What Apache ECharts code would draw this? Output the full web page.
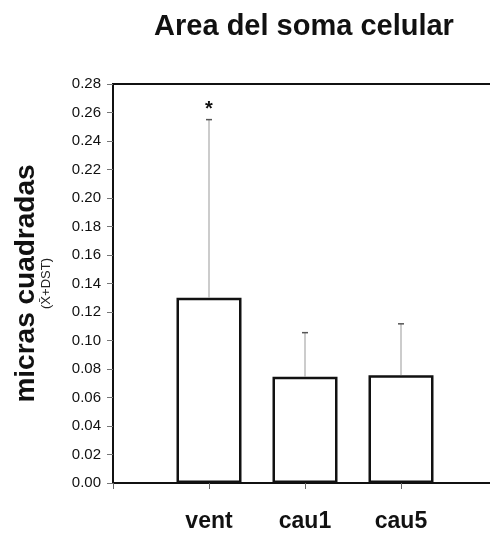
<!DOCTYPE html>
<html>
<head>
<meta charset="utf-8">
<script src="https://cdn.jsdelivr.net/npm/echarts@6/dist/echarts.min.js"></script>
<style>html,body{margin:0;padding:0;background:#fff;}#c{width:490px;height:533px;}</style>
</head>
<body>
<div id="c"></div>
<script>
var chartTitle = 'Area del soma celular';
var yName = 'micras cuadradas';
var ySub = '(X\u0304+DST)';
var categories = ['vent', 'cau1', 'cau5'];
var positions = [1, 2, 3];
var means = [0.130, 0.0745, 0.0757];
var sds = [0.125, 0.031, 0.036];
var marks = ['*', '', ''];

var FONT = 'Liberation Sans, Arial, sans-serif';
var chart = echarts.init(document.getElementById('c'));

var barData = positions.map(function (p, i) { return [p, means[i]]; });
var errData = positions.map(function (p, i) { return [p, means[i], sds[i], i]; });

chart.setOption({
  animation: false,
  backgroundColor: '#fff',
  graphic: [{
    type: 'text', x: 304, y: 27,
    style: { text: chartTitle, font: 'bold 29px ' + FONT, fill: '#111', textAlign: 'center', textVerticalAlign: 'middle' }
  }],
  grid: { left: 113, top: 84, right: -7, bottom: 50, outerBoundsMode: 'none', containLabel: false, show: true, borderColor: '#111', borderWidth: 2, backgroundColor: 'transparent' },
  xAxis: {
    type: 'value', min: 0, max: 4, interval: 1,
    splitLine: { show: false },
    axisLine: { lineStyle: { color: '#111', width: 2 } },
    axisTick: { show: true, length: 6, lineStyle: { color: '#666' } },
    axisLabel: {
      margin: 27, fontFamily: FONT, fontWeight: 'bold', fontSize: 23, color: '#111',
      formatter: function (v) { var i = positions.indexOf(v); return i >= 0 ? categories[i] : ''; }
    }
  },
  yAxis: {
    type: 'value', min: 0, max: 0.28, interval: 0.02,
    splitLine: { show: false },
    axisLine: { show: true, lineStyle: { color: '#111', width: 2 } },
    axisTick: { show: true, length: 6, lineStyle: { color: '#777' } },
    axisLabel: { margin: 12, fontFamily: FONT, fontSize: 15, color: '#111', formatter: function (v) { return v.toFixed(2); } },
    name: '{a|' + yName + '}\n{b|' + ySub + '}',
    nameLocation: 'middle', nameRotate: 90, nameGap: 60,
    nameTextStyle: {
      rich: {
        a: { fontFamily: FONT, fontWeight: 'bold', fontSize: 28, color: '#111', lineHeight: 26 },
        b: { fontFamily: FONT, fontSize: 13, color: '#222', lineHeight: 14 }
      }
    }
  },
  series: [{
    type: 'bar', data: barData, barWidth: 65,
    itemStyle: { color: '#fff', borderColor: '#111', borderWidth: 2.5 },
    z: 3
  }, {
    type: 'custom', data: errData, z: 4,
    renderItem: function (params, api) {
      var x = api.value(0), m = api.value(1), s = api.value(2), idx = api.value(3);
      var p0 = api.coord([x, m]);
      var p1 = api.coord([x, m + s]);
      var children = [
        { type: 'line', shape: { x1: p0[0], y1: p0[1], x2: p1[0], y2: p1[1] }, style: { stroke: '#999', lineWidth: 1 } },
        { type: 'line', shape: { x1: p1[0] - 3, y1: p1[1], x2: p1[0] + 3, y2: p1[1] }, style: { stroke: '#555', lineWidth: 1.5 } }
      ];
      if (marks[idx]) {
        children.push({ type: 'text', x: p1[0], y: p1[1] - 10, style: { text: marks[idx], font: 'bold 20px ' + FONT, fill: '#111', textAlign: 'center', textVerticalAlign: 'middle' } });
      }
      return { type: 'group', children: children };
    }
  }]
});
</script>
</body>
</html>
